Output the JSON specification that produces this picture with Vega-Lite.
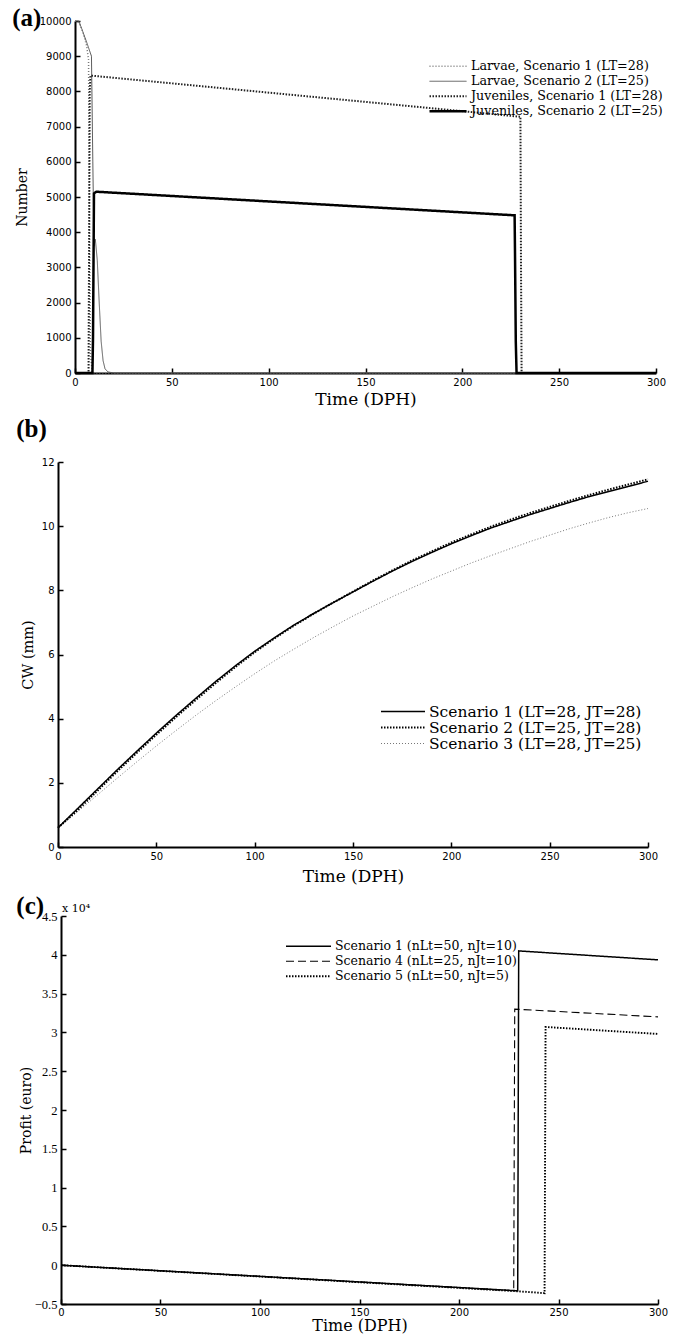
{
  "$schema": "https://vega.github.io/schema/vega-lite/v6.json",
  "background": "white",
  "padding": {"left": 12, "top": 6, "right": 2, "bottom": 2},
  "resolve": {
    "scale": {"color": "independent", "strokeDash": "independent", "strokeWidth": "independent", "x": "independent", "y": "independent"},
    "legend": {"color": "independent", "strokeDash": "independent", "strokeWidth": "independent"}
  },
  "config": {
    "view": {"stroke": null},
    "concat": {"spacing": 10},
    "axis": {
      "grid": false, "domainColor": "black", "domainWidth": 2, "tickColor": "black", "tickWidth": 1.5,
      "tickSize": -5, "labelPadding": 9, "labelColor": "black", "titleColor": "black",
      "labelFont": "DejaVu Sans", "labelFontSize": 10, "titleFont": "DejaVu Serif", "titleFontWeight": "normal",
      "labelOverlap": false, "labelFlush": false
    },
    "title": {"font": "Liberation Serif", "fontSize": 25, "fontWeight": "bold", "anchor": "start", "frame": "bounds", "color": "black"},
    "legend": {"labelFont": "DejaVu Serif", "labelFontSize": 13, "labelColor": "black", "labelLimit": 400, "symbolType": "stroke", "clipHeight": 14.5, "rowPadding": 0, "labelOffset": 3, "title": null, "orient": "none"}
  },
  "datasets": {
    "a": [
      {"t": 0, "n": 10000, "s": "Larvae, Scenario 1 (LT=28)"},
      {"t": 2, "n": 9950, "s": "Larvae, Scenario 1 (LT=28)"},
      {"t": 4, "n": 9700, "s": "Larvae, Scenario 1 (LT=28)"},
      {"t": 6, "n": 9300, "s": "Larvae, Scenario 1 (LT=28)"},
      {"t": 7, "n": 8900, "s": "Larvae, Scenario 1 (LT=28)"},
      {"t": 7.5, "n": 4000, "s": "Larvae, Scenario 1 (LT=28)"},
      {"t": 8, "n": 500, "s": "Larvae, Scenario 1 (LT=28)"},
      {"t": 9, "n": 0, "s": "Larvae, Scenario 1 (LT=28)"},
      {"t": 300, "n": 0, "s": "Larvae, Scenario 1 (LT=28)"},
      {"t": 0, "n": 10000, "s": "Larvae, Scenario 2 (LT=25)"},
      {"t": 2, "n": 10000, "s": "Larvae, Scenario 2 (LT=25)"},
      {"t": 4, "n": 9700, "s": "Larvae, Scenario 2 (LT=25)"},
      {"t": 6, "n": 9400, "s": "Larvae, Scenario 2 (LT=25)"},
      {"t": 8.5, "n": 9000, "s": "Larvae, Scenario 2 (LT=25)"},
      {"t": 9.2, "n": 6000, "s": "Larvae, Scenario 2 (LT=25)"},
      {"t": 9.8, "n": 3600, "s": "Larvae, Scenario 2 (LT=25)"},
      {"t": 10.5, "n": 3800, "s": "Larvae, Scenario 2 (LT=25)"},
      {"t": 11.5, "n": 3200, "s": "Larvae, Scenario 2 (LT=25)"},
      {"t": 12.5, "n": 2000, "s": "Larvae, Scenario 2 (LT=25)"},
      {"t": 13.5, "n": 900, "s": "Larvae, Scenario 2 (LT=25)"},
      {"t": 14.5, "n": 350, "s": "Larvae, Scenario 2 (LT=25)"},
      {"t": 15.5, "n": 120, "s": "Larvae, Scenario 2 (LT=25)"},
      {"t": 17, "n": 30, "s": "Larvae, Scenario 2 (LT=25)"},
      {"t": 20, "n": 0, "s": "Larvae, Scenario 2 (LT=25)"},
      {"t": 300, "n": 0, "s": "Larvae, Scenario 2 (LT=25)"},
      {"t": 0, "n": 0, "s": "Juveniles, Scenario 1 (LT=28)"},
      {"t": 7, "n": 0, "s": "Juveniles, Scenario 1 (LT=28)"},
      {"t": 7.6, "n": 8000, "s": "Juveniles, Scenario 1 (LT=28)"},
      {"t": 8, "n": 8450, "s": "Juveniles, Scenario 1 (LT=28)"},
      {"t": 230, "n": 7280, "s": "Juveniles, Scenario 1 (LT=28)"},
      {"t": 230.3, "n": 3000, "s": "Juveniles, Scenario 1 (LT=28)"},
      {"t": 230.6, "n": 0, "s": "Juveniles, Scenario 1 (LT=28)"},
      {"t": 300, "n": 0, "s": "Juveniles, Scenario 1 (LT=28)"},
      {"t": 0, "n": 0, "s": "Juveniles, Scenario 2 (LT=25)"},
      {"t": 9, "n": 0, "s": "Juveniles, Scenario 2 (LT=25)"},
      {"t": 9.3, "n": 1000, "s": "Juveniles, Scenario 2 (LT=25)"},
      {"t": 9.8, "n": 5100, "s": "Juveniles, Scenario 2 (LT=25)"},
      {"t": 11, "n": 5150, "s": "Juveniles, Scenario 2 (LT=25)"},
      {"t": 227, "n": 4480, "s": "Juveniles, Scenario 2 (LT=25)"},
      {"t": 227.2, "n": 3400, "s": "Juveniles, Scenario 2 (LT=25)"},
      {"t": 227.6, "n": 900, "s": "Juveniles, Scenario 2 (LT=25)"},
      {"t": 228, "n": 0, "s": "Juveniles, Scenario 2 (LT=25)"},
      {"t": 300, "n": 0, "s": "Juveniles, Scenario 2 (LT=25)"}
    ],
    "b": [
      {"t": 0, "cw": 0.6, "s": "Scenario 3 (LT=28, JT=25)"},
      {"t": 10, "cw": 1.1, "s": "Scenario 3 (LT=28, JT=25)"},
      {"t": 20, "cw": 1.62, "s": "Scenario 3 (LT=28, JT=25)"},
      {"t": 30, "cw": 2.14, "s": "Scenario 3 (LT=28, JT=25)"},
      {"t": 40, "cw": 2.65, "s": "Scenario 3 (LT=28, JT=25)"},
      {"t": 50, "cw": 3.15, "s": "Scenario 3 (LT=28, JT=25)"},
      {"t": 60, "cw": 3.63, "s": "Scenario 3 (LT=28, JT=25)"},
      {"t": 70, "cw": 4.1, "s": "Scenario 3 (LT=28, JT=25)"},
      {"t": 80, "cw": 4.55, "s": "Scenario 3 (LT=28, JT=25)"},
      {"t": 90, "cw": 4.98, "s": "Scenario 3 (LT=28, JT=25)"},
      {"t": 100, "cw": 5.4, "s": "Scenario 3 (LT=28, JT=25)"},
      {"t": 110, "cw": 5.8, "s": "Scenario 3 (LT=28, JT=25)"},
      {"t": 120, "cw": 6.17, "s": "Scenario 3 (LT=28, JT=25)"},
      {"t": 130, "cw": 6.53, "s": "Scenario 3 (LT=28, JT=25)"},
      {"t": 140, "cw": 6.87, "s": "Scenario 3 (LT=28, JT=25)"},
      {"t": 150, "cw": 7.2, "s": "Scenario 3 (LT=28, JT=25)"},
      {"t": 160, "cw": 7.5, "s": "Scenario 3 (LT=28, JT=25)"},
      {"t": 170, "cw": 7.8, "s": "Scenario 3 (LT=28, JT=25)"},
      {"t": 180, "cw": 8.08, "s": "Scenario 3 (LT=28, JT=25)"},
      {"t": 190, "cw": 8.35, "s": "Scenario 3 (LT=28, JT=25)"},
      {"t": 200, "cw": 8.6, "s": "Scenario 3 (LT=28, JT=25)"},
      {"t": 210, "cw": 8.85, "s": "Scenario 3 (LT=28, JT=25)"},
      {"t": 220, "cw": 9.08, "s": "Scenario 3 (LT=28, JT=25)"},
      {"t": 230, "cw": 9.3, "s": "Scenario 3 (LT=28, JT=25)"},
      {"t": 240, "cw": 9.52, "s": "Scenario 3 (LT=28, JT=25)"},
      {"t": 250, "cw": 9.72, "s": "Scenario 3 (LT=28, JT=25)"},
      {"t": 260, "cw": 9.92, "s": "Scenario 3 (LT=28, JT=25)"},
      {"t": 270, "cw": 10.1, "s": "Scenario 3 (LT=28, JT=25)"},
      {"t": 280, "cw": 10.27, "s": "Scenario 3 (LT=28, JT=25)"},
      {"t": 290, "cw": 10.42, "s": "Scenario 3 (LT=28, JT=25)"},
      {"t": 300, "cw": 10.55, "s": "Scenario 3 (LT=28, JT=25)"},
      {"t": 0, "cw": 0.6, "s": "Scenario 1 (LT=28, JT=28)"},
      {"t": 10, "cw": 1.2, "s": "Scenario 1 (LT=28, JT=28)"},
      {"t": 20, "cw": 1.8, "s": "Scenario 1 (LT=28, JT=28)"},
      {"t": 30, "cw": 2.4, "s": "Scenario 1 (LT=28, JT=28)"},
      {"t": 40, "cw": 2.98, "s": "Scenario 1 (LT=28, JT=28)"},
      {"t": 50, "cw": 3.55, "s": "Scenario 1 (LT=28, JT=28)"},
      {"t": 60, "cw": 4.1, "s": "Scenario 1 (LT=28, JT=28)"},
      {"t": 70, "cw": 4.63, "s": "Scenario 1 (LT=28, JT=28)"},
      {"t": 80, "cw": 5.15, "s": "Scenario 1 (LT=28, JT=28)"},
      {"t": 90, "cw": 5.64, "s": "Scenario 1 (LT=28, JT=28)"},
      {"t": 100, "cw": 6.1, "s": "Scenario 1 (LT=28, JT=28)"},
      {"t": 110, "cw": 6.52, "s": "Scenario 1 (LT=28, JT=28)"},
      {"t": 120, "cw": 6.92, "s": "Scenario 1 (LT=28, JT=28)"},
      {"t": 130, "cw": 7.28, "s": "Scenario 1 (LT=28, JT=28)"},
      {"t": 140, "cw": 7.62, "s": "Scenario 1 (LT=28, JT=28)"},
      {"t": 150, "cw": 7.95, "s": "Scenario 1 (LT=28, JT=28)"},
      {"t": 160, "cw": 8.28, "s": "Scenario 1 (LT=28, JT=28)"},
      {"t": 170, "cw": 8.6, "s": "Scenario 1 (LT=28, JT=28)"},
      {"t": 180, "cw": 8.9, "s": "Scenario 1 (LT=28, JT=28)"},
      {"t": 190, "cw": 9.18, "s": "Scenario 1 (LT=28, JT=28)"},
      {"t": 200, "cw": 9.45, "s": "Scenario 1 (LT=28, JT=28)"},
      {"t": 210, "cw": 9.7, "s": "Scenario 1 (LT=28, JT=28)"},
      {"t": 220, "cw": 9.94, "s": "Scenario 1 (LT=28, JT=28)"},
      {"t": 230, "cw": 10.15, "s": "Scenario 1 (LT=28, JT=28)"},
      {"t": 240, "cw": 10.36, "s": "Scenario 1 (LT=28, JT=28)"},
      {"t": 250, "cw": 10.55, "s": "Scenario 1 (LT=28, JT=28)"},
      {"t": 260, "cw": 10.74, "s": "Scenario 1 (LT=28, JT=28)"},
      {"t": 270, "cw": 10.92, "s": "Scenario 1 (LT=28, JT=28)"},
      {"t": 280, "cw": 11.08, "s": "Scenario 1 (LT=28, JT=28)"},
      {"t": 290, "cw": 11.24, "s": "Scenario 1 (LT=28, JT=28)"},
      {"t": 300, "cw": 11.4, "s": "Scenario 1 (LT=28, JT=28)"},
      {"t": 0, "cw": 0.6, "s": "Scenario 2 (LT=25, JT=28)"},
      {"t": 10, "cw": 1.15, "s": "Scenario 2 (LT=25, JT=28)"},
      {"t": 20, "cw": 1.75, "s": "Scenario 2 (LT=25, JT=28)"},
      {"t": 30, "cw": 2.35, "s": "Scenario 2 (LT=25, JT=28)"},
      {"t": 40, "cw": 2.93, "s": "Scenario 2 (LT=25, JT=28)"},
      {"t": 50, "cw": 3.5, "s": "Scenario 2 (LT=25, JT=28)"},
      {"t": 60, "cw": 4.05, "s": "Scenario 2 (LT=25, JT=28)"},
      {"t": 70, "cw": 4.58, "s": "Scenario 2 (LT=25, JT=28)"},
      {"t": 80, "cw": 5.1, "s": "Scenario 2 (LT=25, JT=28)"},
      {"t": 90, "cw": 5.6, "s": "Scenario 2 (LT=25, JT=28)"},
      {"t": 100, "cw": 6.07, "s": "Scenario 2 (LT=25, JT=28)"},
      {"t": 110, "cw": 6.5, "s": "Scenario 2 (LT=25, JT=28)"},
      {"t": 120, "cw": 6.9, "s": "Scenario 2 (LT=25, JT=28)"},
      {"t": 130, "cw": 7.27, "s": "Scenario 2 (LT=25, JT=28)"},
      {"t": 140, "cw": 7.62, "s": "Scenario 2 (LT=25, JT=28)"},
      {"t": 150, "cw": 7.96, "s": "Scenario 2 (LT=25, JT=28)"},
      {"t": 160, "cw": 8.3, "s": "Scenario 2 (LT=25, JT=28)"},
      {"t": 170, "cw": 8.62, "s": "Scenario 2 (LT=25, JT=28)"},
      {"t": 180, "cw": 8.93, "s": "Scenario 2 (LT=25, JT=28)"},
      {"t": 190, "cw": 9.21, "s": "Scenario 2 (LT=25, JT=28)"},
      {"t": 200, "cw": 9.49, "s": "Scenario 2 (LT=25, JT=28)"},
      {"t": 210, "cw": 9.74, "s": "Scenario 2 (LT=25, JT=28)"},
      {"t": 220, "cw": 9.98, "s": "Scenario 2 (LT=25, JT=28)"},
      {"t": 230, "cw": 10.2, "s": "Scenario 2 (LT=25, JT=28)"},
      {"t": 240, "cw": 10.41, "s": "Scenario 2 (LT=25, JT=28)"},
      {"t": 250, "cw": 10.6, "s": "Scenario 2 (LT=25, JT=28)"},
      {"t": 260, "cw": 10.79, "s": "Scenario 2 (LT=25, JT=28)"},
      {"t": 270, "cw": 10.97, "s": "Scenario 2 (LT=25, JT=28)"},
      {"t": 280, "cw": 11.14, "s": "Scenario 2 (LT=25, JT=28)"},
      {"t": 290, "cw": 11.3, "s": "Scenario 2 (LT=25, JT=28)"},
      {"t": 300, "cw": 11.46, "s": "Scenario 2 (LT=25, JT=28)"}
    ],
    "c": [
      {"t": 0, "p": 0, "s": "Scenario 1 (nLt=50, nJt=10)"},
      {"t": 229.5, "p": -0.33, "s": "Scenario 1 (nLt=50, nJt=10)"},
      {"t": 230, "p": 4.05, "s": "Scenario 1 (nLt=50, nJt=10)"},
      {"t": 300, "p": 3.935, "s": "Scenario 1 (nLt=50, nJt=10)"},
      {"t": 0, "p": 0, "s": "Scenario 4 (nLt=25, nJt=10)"},
      {"t": 227.5, "p": -0.33, "s": "Scenario 4 (nLt=25, nJt=10)"},
      {"t": 228, "p": 3.3, "s": "Scenario 4 (nLt=25, nJt=10)"},
      {"t": 300, "p": 3.2, "s": "Scenario 4 (nLt=25, nJt=10)"},
      {"t": 0, "p": 0, "s": "Scenario 5 (nLt=50, nJt=5)"},
      {"t": 229, "p": -0.335, "s": "Scenario 5 (nLt=50, nJt=5)"},
      {"t": 243, "p": -0.36, "s": "Scenario 5 (nLt=50, nJt=5)"},
      {"t": 243.5, "p": 3.07, "s": "Scenario 5 (nLt=50, nJt=5)"},
      {"t": 300, "p": 2.98, "s": "Scenario 5 (nLt=50, nJt=5)"}
    ]
  },
  "vconcat": [
    {
      "title": {"text": "(a)", "offset": -15, "dx": -3},
      "width": 581, "height": 352,
      "data": {"name": "a"},
      "mark": {"type": "line"},
      "encoding": {
        "x": {"field": "t", "type": "quantitative", "scale": {"domain": [0, 300], "nice": false},
              "axis": {"values": [0, 50, 100, 150, 200, 250, 300], "title": "Time (DPH)", "titleFontSize": 17, "titlePadding": 4}},
        "y": {"field": "n", "type": "quantitative", "scale": {"domain": [0, 10000], "nice": false},
              "axis": {"values": [0, 1000, 2000, 3000, 4000, 5000, 6000, 7000, 8000, 9000, 10000], "format": "d", "title": "Number", "titleFontSize": 14, "titlePadding": 10}},
        "color": {"field": "s", "type": "nominal",
                  "scale": {"domain": ["Larvae, Scenario 2 (LT=25)", "Larvae, Scenario 1 (LT=28)", "Juveniles, Scenario 1 (LT=28)", "Juveniles, Scenario 2 (LT=25)"], "range": ["#555555", "#777777", "#222222", "#000000"]},
                  "legend": {"legendX": 353, "legendY": 38, "symbolSize": 1369, "labelFontSize": 12.7, "values": ["Larvae, Scenario 1 (LT=28)", "Larvae, Scenario 2 (LT=25)", "Juveniles, Scenario 1 (LT=28)", "Juveniles, Scenario 2 (LT=25)"]}},
        "strokeDash": {"field": "s", "type": "nominal",
                  "scale": {"domain": ["Larvae, Scenario 2 (LT=25)", "Larvae, Scenario 1 (LT=28)", "Juveniles, Scenario 1 (LT=28)", "Juveniles, Scenario 2 (LT=25)"], "range": [[1, 0], [1, 2], [1.5, 1.5], [1, 0]]},
                  "legend": {"legendX": 353, "legendY": 38, "symbolSize": 1369, "labelFontSize": 12.7, "values": ["Larvae, Scenario 1 (LT=28)", "Larvae, Scenario 2 (LT=25)", "Juveniles, Scenario 1 (LT=28)", "Juveniles, Scenario 2 (LT=25)"]}},
        "strokeWidth": {"field": "s", "type": "nominal",
                  "scale": {"type": "point", "domain": ["Larvae, Scenario 2 (LT=25)", "Larvae, Scenario 1 (LT=28)", "Juveniles, Scenario 1 (LT=28)", "Juveniles, Scenario 2 (LT=25)"], "range": [1, 2.5]},
                  "legend": {"legendX": 353, "legendY": 38, "symbolSize": 1369, "labelFontSize": 12.7, "values": ["Larvae, Scenario 1 (LT=28)", "Larvae, Scenario 2 (LT=25)", "Juveniles, Scenario 1 (LT=28)", "Juveniles, Scenario 2 (LT=25)"]}}
      }
    },
    {
      "title": {"text": "(b)", "offset": 15, "dx": -4},
      "width": 573, "height": 385,
      "data": {"name": "b"},
      "mark": {"type": "line"},
      "encoding": {
        "x": {"field": "t", "type": "quantitative", "scale": {"domain": [0, 300], "nice": false, "range": [-17, 573]},
              "axis": {"values": [0, 50, 100, 150, 200, 250, 300], "title": "Time (DPH)", "titleFontSize": 17, "titlePadding": 7}},
        "y": {"field": "cw", "type": "quantitative", "scale": {"domain": [0, 12], "nice": false},
              "axis": {"values": [0, 2, 4, 6, 8, 10, 12], "offset": 17, "title": "CW (mm)", "titleFontSize": 14.5, "titlePadding": 6}},
        "color": {"field": "s", "type": "nominal",
                  "scale": {"domain": ["Scenario 3 (LT=28, JT=25)", "Scenario 1 (LT=28, JT=28)", "Scenario 2 (LT=25, JT=28)"], "range": ["#777777", "#000000", "#000000"]},
                  "legend": {"legendX": 305, "legendY": 242, "symbolSize": 1936, "labelFontSize": 15.5, "clipHeight": 15, "values": ["Scenario 1 (LT=28, JT=28)", "Scenario 2 (LT=25, JT=28)", "Scenario 3 (LT=28, JT=25)"]}},
        "strokeDash": {"field": "s", "type": "nominal",
                  "scale": {"domain": ["Scenario 3 (LT=28, JT=25)", "Scenario 1 (LT=28, JT=28)", "Scenario 2 (LT=25, JT=28)"], "range": [[1, 2], [1, 0], [1.5, 1.5]]},
                  "legend": {"legendX": 305, "legendY": 242, "symbolSize": 1936, "labelFontSize": 15.5, "clipHeight": 15, "values": ["Scenario 1 (LT=28, JT=28)", "Scenario 2 (LT=25, JT=28)", "Scenario 3 (LT=28, JT=25)"]}},
        "strokeWidth": {"field": "s", "type": "nominal",
                  "scale": {"type": "point", "domain": ["Scenario 3 (LT=28, JT=25)", "Scenario 1 (LT=28, JT=28)", "Scenario 2 (LT=25, JT=28)"], "range": [1, 2]},
                  "legend": {"legendX": 305, "legendY": 242, "symbolSize": 1936, "labelFontSize": 15.5, "clipHeight": 15, "values": ["Scenario 1 (LT=28, JT=28)", "Scenario 2 (LT=25, JT=28)", "Scenario 3 (LT=28, JT=25)"]}}
      }
    },
    {
      "title": {"text": "(c)", "offset": -16, "dx": -3},
      "width": 583, "height": 388,
      "layer": [
        {
          "data": {"name": "c"},
          "mark": {"type": "line"},
          "encoding": {
            "x": {"field": "t", "type": "quantitative", "scale": {"domain": [0, 300], "nice": false, "range": [-14, 583]},
                  "axis": {"values": [0, 50, 100, 150, 200, 250, 300], "title": "Time (DPH)", "titleFontSize": 16, "titlePadding": 0, "labelPadding": 8, "labelOverlap": false}},
            "y": {"field": "p", "type": "quantitative", "scale": {"domain": [-0.5, 4.5], "nice": false},
                  "axis": {"values": [-0.5, 0, 0.5, 1, 1.5, 2, 2.5, 3, 3.5, 4, 4.5], "format": "~g", "offset": 14, "labelFont": "Liberation Serif", "labelFontSize": 12.5, "labelOverlap": false, "title": "Profit (euro)", "titleFontSize": 14, "titlePadding": 1}},
            "color": {"field": "s", "type": "nominal",
                      "scale": {"domain": ["Scenario 4 (nLt=25, nJt=10)", "Scenario 1 (nLt=50, nJt=10)", "Scenario 5 (nLt=50, nJt=5)"], "range": ["#000000", "#000000", "#000000"]},
                      "legend": {"legendX": 210, "legendY": 23, "symbolSize": 2025, "labelFontSize": 12.5, "values": ["Scenario 1 (nLt=50, nJt=10)", "Scenario 4 (nLt=25, nJt=10)", "Scenario 5 (nLt=50, nJt=5)"]}},
            "strokeDash": {"field": "s", "type": "nominal",
                      "scale": {"domain": ["Scenario 4 (nLt=25, nJt=10)", "Scenario 1 (nLt=50, nJt=10)", "Scenario 5 (nLt=50, nJt=5)"], "range": [[8, 4], [1, 0], [1.5, 1.5]]},
                      "legend": {"legendX": 210, "legendY": 23, "symbolSize": 2025, "labelFontSize": 12.5, "values": ["Scenario 1 (nLt=50, nJt=10)", "Scenario 4 (nLt=25, nJt=10)", "Scenario 5 (nLt=50, nJt=5)"]}},
            "strokeWidth": {"field": "s", "type": "nominal",
                      "scale": {"type": "point", "domain": ["Scenario 4 (nLt=25, nJt=10)", "Scenario 1 (nLt=50, nJt=10)", "Scenario 5 (nLt=50, nJt=5)"], "range": [1.1, 1.9]},
                      "legend": {"legendX": 210, "legendY": 23, "symbolSize": 2025, "labelFontSize": 12.5, "values": ["Scenario 1 (nLt=50, nJt=10)", "Scenario 4 (nLt=25, nJt=10)", "Scenario 5 (nLt=50, nJt=5)"]}}
          }
        },
        {
          "data": {"values": [{"label": "x 10⁴"}]},
          "mark": {"type": "text", "font": "DejaVu Serif", "fontSize": 11, "align": "left", "baseline": "bottom", "dx": 1, "dy": -2, "color": "black"},
          "encoding": {
            "text": {"field": "label"},
            "x": {"datum": 0, "type": "quantitative",
                  "axis": {"values": [0, 50, 100, 150, 200, 250, 300], "title": "Time (DPH)", "titleFontSize": 16, "titlePadding": 0, "labelPadding": 8, "labelOverlap": false}},
            "y": {"datum": 4.5, "type": "quantitative",
                  "axis": {"values": [-0.5, 0, 0.5, 1, 1.5, 2, 2.5, 3, 3.5, 4, 4.5], "format": "~g", "offset": 14, "labelFont": "Liberation Serif", "labelFontSize": 12.5, "labelOverlap": false, "title": "Profit (euro)", "titleFontSize": 14, "titlePadding": 1}}
          }
        }
      ]
    }
  ]
}
